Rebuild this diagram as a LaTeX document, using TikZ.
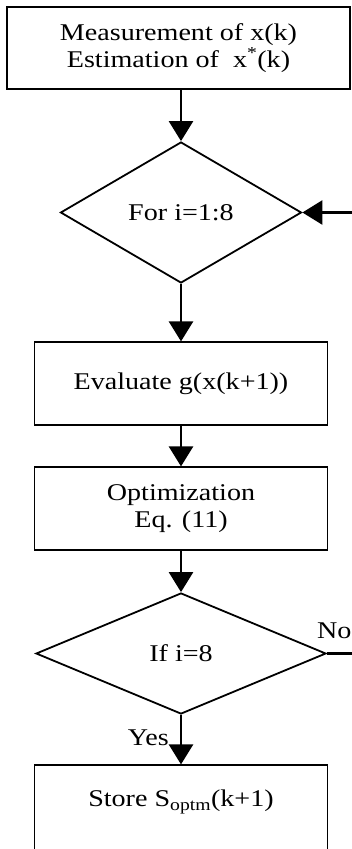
\documentclass[tikz,border=0pt]{standalone}
\usepackage{fontspec}
\setmainfont{Liberation Serif}[FakeStretch=1.17]
\usetikzlibrary{shapes.geometric,arrows.meta}

\begin{document}
\begin{tikzpicture}[x=1pt,y=-1pt,
  box/.style={draw, line width=1.2pt, inner sep=0pt, align=center,
              font=\fontsize{24}{27.5}\selectfont},
  dec/.style={draw, diamond, line width=1.8pt, inner sep=0pt,
              font=\fontsize{24}{27}\selectfont},
  flow/.style={line width=2.6pt, -{Triangle[width=24pt,length=20pt]}},
  plain/.style={line width=2.4pt},
  tag/.style={font=\fontsize{24}{27}\selectfont, inner sep=0pt}]
  \clip (0,0) rectangle (352,849);

  % process boxes and decisions
  \node[box, minimum width=343pt, minimum height=82pt] (meas) at (178.5,48)
    {Measurement of x(k)\\Estimation of \ x\textsuperscript{*}(k)};
  \node[dec, minimum width=241pt, minimum height=141pt] (loop) at (181,212.5) {For i=1:8};
  \node[box, minimum width=293pt, minimum height=83pt] (eval) at (181,383.5) {Evaluate g(x(k+1))};
  \node[box, minimum width=293pt, minimum height=83pt] (opt) at (181,508.5) {Optimization\\Eq. (11)};
  \node[dec, minimum width=290pt, minimum height=121pt] (check) at (181,653.5) {If i=8};
  \node[box, minimum width=293pt, minimum height=140pt] (store) at (181,835) {};
  \node[tag] (storetxt) at (181,802) {Store S\textsubscript{optm}(k+1)};

  % connectors
  \draw[flow] (meas.south -| loop.north) -- (loop.north);
  \draw[flow] (loop.south) -- (eval.north);
  \draw[flow] (eval.south) -- (opt.north);
  \draw[flow] (opt.south) -- (check.north);
  \draw[flow] (check.south) -- (store.north);

  \coordinate (back) at (352,212.5);
  \draw[flow] (back) -- (loop.east);
  \coordinate (noend) at (352,653.5);
  \draw[plain] (check.east) -- (noend);

  % branch labels
  \node[tag, anchor=west] (no) at (317,631) {No};
  \node[tag, anchor=east] (yes) at (169,738) {Yes};
\end{tikzpicture}
\end{document}
